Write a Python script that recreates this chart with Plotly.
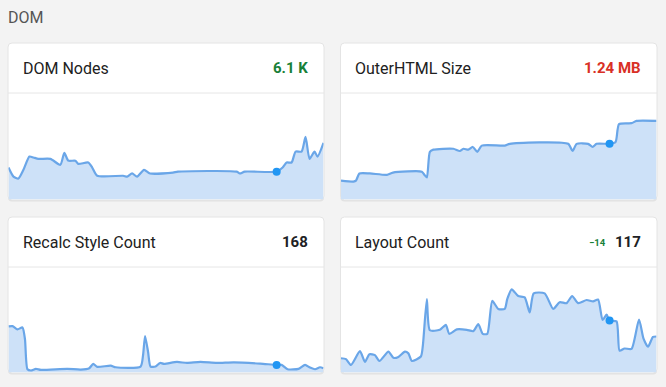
import plotly.graph_objects as go

W, H = 666, 387

# ---------------- data (time in frames, shared cursor) ----------------
cursor_t = 269

dom_t = [0, 5, 10, 15, 21, 25, 30, 42, 52, 56, 60, 67, 70, 80, 84, 89, 115, 119, 124, 129,
         136, 142, 165, 170, 229, 232, 237, 269, 275, 279, 284, 288, 294, 298, 302, 307, 310, 316]
dom_k = [7.0, 5.0, 4.6, 6.5, 9.4, 9.2, 8.9, 8.9, 7.6, 10.2, 8.5, 8.5, 7.8, 8.1, 7.0, 5.2, 5.2, 5.0, 5.7, 5.0,
         6.5, 5.7, 5.9, 6.1, 6.1, 5.7, 6.1, 6.1, 7.0, 8.1, 8.1, 10.5, 10.5, 13.7, 8.9, 10.5, 9.4, 12.4]

html_t = [0, 12.5, 15, 18.5, 29, 46, 52, 81, 83.5, 86, 89, 92.5, 112.5, 119, 122.5, 127.5, 132, 136.5,
          141, 164, 169, 227.5, 232, 236, 247.5, 252, 256, 269, 275, 278.5, 291, 296, 316]
html_mb = [0.42, 0.40, 0.42, 0.58, 0.58, 0.55, 0.60, 0.62, 0.55, 0.49, 1.06, 1.11, 1.13, 1.08, 1.13, 1.11,
           1.17, 1.06, 1.20, 1.20, 1.24, 1.24, 1.08, 1.24, 1.24, 1.17, 1.24, 1.24, 1.28, 1.68, 1.70, 1.75, 1.75]

recalc_t = [0, 4, 9, 14, 16.5, 19, 22.5, 27.5, 32.5, 59, 72.5, 81, 85, 89, 102.5, 107.5, 132.5, 135, 137,
            140, 142.5, 147.5, 152, 156, 169, 179, 192.5, 209, 226, 252.5, 269, 274, 280, 291, 297.5,
            302.5, 307.5, 312.5, 316]
recalc_n = [1018, 1025, 953, 996, 741, 72, 44, 81, 59, 81, 65, 94, 190, 124, 153, 116, 131, 386, 807,
            458, 131, 131, 211, 190, 233, 211, 233, 211, 225, 196, 168, 168, 72, 81, 168,
            109, 72, 116, 94]

layout_t = [0, 5, 10, 19, 24, 28.5, 34, 38.5, 47.5, 52.5, 57.5, 64, 67.5, 71, 80, 82, 86, 89, 99, 105,
            108.5, 116, 126, 132.5, 137.5, 142, 146.5, 151.5, 157.5, 164, 166.5, 171, 177.5, 184, 189,
            193, 204, 212.5, 219, 226, 231.5, 237.5, 246, 252.5, 257.5, 262, 266, 269, 276, 279, 284,
            291, 298.5, 303, 307.5, 312.5, 316]
layout_n = [32, 30, 17, 48, 24, 41, 39, 26, 47, 33, 35, 47, 43, 26, 36, 61, 165, 95, 96, 107,
            87, 97, 96, 93, 109, 87, 87, 161, 143, 143, 165, 187, 172, 169, 135,
            178, 178, 143, 158, 156, 172, 156, 163, 160, 164, 118, 130, 117, 115, 49, 54,
            53, 119, 76, 58, 80, 81]

titles = ["DOM Nodes", "OuterHTML Size", "Recalc Style Count", "Layout Count"]
headline = ["6.1 K", "1.24 MB", "168", "117"]
deltas = [None, None, None, "\u221214"]
series_t = [dom_t, html_t, recalc_t, layout_t]
series_v = [dom_k, html_mb, recalc_n, layout_n]
y_max = [23.1, 2.35, 2310, 235]

# ---------------- styling / layout ----------------
head_colors = ["#188038", "#d93025", "#202124", "#202124"]
boxes = [(8, 43, 324, 200), (340.5, 43, 657, 200), (8, 217, 324, 373), (340.5, 217, 657, 373)]
HEADER = 50
LINE = "#6aa6e8"
FILL = "#cde1f8"
DOT = "#2196f3"

def px(x):
    return x / W

def py(y):
    return 1 - y / H

def rrect(x0, y0, x1, y1, r):
    rx, ry = r / W, r / H
    X0, X1, Y0, Y1 = px(x0), px(x1), py(y0), py(y1)
    return (f"M {X0+rx},{Y0} L {X1-rx},{Y0} Q {X1},{Y0} {X1},{Y0-ry} "
            f"L {X1},{Y1+ry} Q {X1},{Y1} {X1-rx},{Y1} L {X0+rx},{Y1} "
            f"Q {X0},{Y1} {X0},{Y1+ry} L {X0},{Y0-ry} Q {X0},{Y0} {X0+rx},{Y0} Z")

fig = go.Figure()
shapes = []
annotations = [dict(text="DOM", x=px(6), y=py(17), xref="paper", yref="paper",
                    xanchor="left", yanchor="middle", showarrow=False,
                    font=dict(family="Roboto", size=16, color="#555555"))]
layout_axes = {}

for i, (x0, y0, x1, y1) in enumerate(boxes):
    k = i + 1
    # shadow + card
    shapes.append(dict(type="path", path=rrect(x0, y0 + 1, x1, y1 + 1.5, 4), xref="paper", yref="paper",
                       fillcolor="#e2e2e2", line=dict(width=0), layer="below"))
    shapes.append(dict(type="path", path=rrect(x0, y0, x1, y1, 4), xref="paper", yref="paper",
                       fillcolor="white", line=dict(color="#e4e4e4", width=1), layer="below"))
    # divider
    shapes.append(dict(type="line", x0=px(x0), x1=px(x1), y0=py(y0 + HEADER), y1=py(y0 + HEADER),
                       xref="paper", yref="paper", line=dict(color="#e6e6e6", width=1), layer="below"))
    # header text
    yc = py(y0 + 25)
    annotations.append(dict(text=titles[i], x=px(x0 + 13), y=yc, xref="paper", yref="paper",
                            xanchor="left", yanchor="middle", showarrow=False,
                            font=dict(family="Roboto", size=16, color="#212121")))
    annotations.append(dict(text=f"<b>{headline[i]}</b>", x=px(x1 - 14), y=yc, xref="paper", yref="paper",
                            xanchor="right", yanchor="middle", showarrow=False,
                            font=dict(family="Roboto", size=15, color=head_colors[i])))
    if deltas[i]:
        annotations.append(dict(text=f"<b>{deltas[i]}</b>", x=px(x1 - 49), y=yc, xref="paper", yref="paper",
                                xanchor="right", yanchor="middle", showarrow=False,
                                font=dict(family="Roboto", size=9.5, color="#188038")))

    t, v = series_t[i], series_v[i]
    xa, ya = f"x{k}", f"y{k}"
    fig.add_trace(go.Scatter(x=t, y=v, mode="lines", xaxis=xa, yaxis=ya,
                             line=dict(color=LINE, width=2.2, shape="spline", smoothing=0.6),
                             fill="tozeroy", fillcolor=FILL, hoverinfo="skip", showlegend=False))
    ci = t.index(cursor_t)
    fig.add_trace(go.Scatter(x=[cursor_t], y=[v[ci]], mode="markers", xaxis=xa, yaxis=ya,
                             marker=dict(color=DOT, size=8), hoverinfo="skip", showlegend=False,
                             cliponaxis=False))
    sfx = "" if k == 1 else str(k)
    layout_axes[f"xaxis{sfx}"] = dict(domain=[px(x0 + 0.5), px(x1 - 0.5)], range=[0, 316], visible=False,
                                      fixedrange=True, anchor=ya)
    layout_axes[f"yaxis{sfx}"] = dict(domain=[py(y1 - 0.5), py(y0 + HEADER + 1)], range=[0, y_max[i]],
                                      visible=False, fixedrange=True, anchor=xa)

fig.update_layout(width=W, height=H, margin=dict(l=0, r=0, t=0, b=0),
                  paper_bgcolor="#f3f3f3", plot_bgcolor="rgba(0,0,0,0)",
                  shapes=shapes, annotations=annotations, **layout_axes)

fig.write_html("out.html", config={"displayModeBar": False},
               post_script="document.body.style.margin='0';document.body.style.background='#f3f3f3';")
